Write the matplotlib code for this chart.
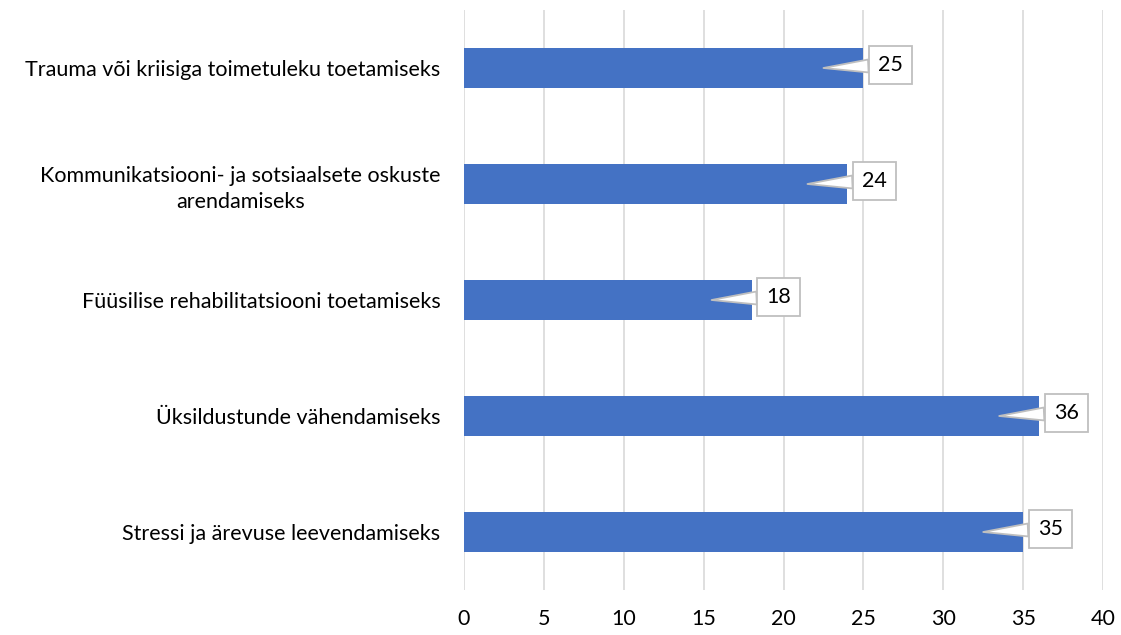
import matplotlib
matplotlib.use("Agg")
import matplotlib.pyplot as plt

categories = [
    "Trauma või kriisiga toimetuleku toetamiseks",
    "Kommunikatsiooni- ja sotsiaalsete oskuste\narendamiseks",
    "Füüsilise rehabilitatsiooni toetamiseks",
    "Üksildustunde vähendamiseks",
    "Stressi ja ärevuse leevendamiseks",
]
values = [25, 24, 18, 36, 35]
xticks = [0, 5, 10, 15, 20, 25, 30, 35, 40]

plt.rcParams['font.family'] = ['Lato', 'DejaVu Sans']
FS = 15.5

fig = plt.figure(figsize=(11.21, 6.35), dpi=100)
ax = fig.add_axes([464/1121, 45/635, (1103-464)/1121, 580/635])

ypos = list(range(len(categories)))
ax.barh(ypos, values, height=0.345, color="#4472C4", zorder=2)
ax.set_ylim(len(categories) - 0.5, -0.5)
ax.set_xlim(0, 40)
ax.set_xticks(xticks)
ax.set_xticklabels([str(t) for t in xticks], fontsize=FS)
ax.set_yticks(ypos)
ax.set_yticklabels(categories, fontsize=FS, linespacing=1.4)
for lab in ax.get_yticklabels():
    lab.set_multialignment('center')
ax.tick_params(axis='both', length=0)
ax.tick_params(axis='x', pad=14)
ax.tick_params(axis='y', pad=17)
ax.grid(axis='x', color='#d9d9d9', linewidth=1.2, zorder=0)
ax.set_axisbelow(True)
for s in ax.spines.values():
    s.set_visible(False)

for y, v in zip(ypos, values):
    ax.annotate(str(v), xy=(v - 2.5, y), xytext=(67, 3), textcoords='offset pixels',
                ha='center', va='center', fontsize=FS, zorder=5,
                bbox=dict(boxstyle='square,pad=0.42', fc='white', ec='#bfbfbf', lw=1.3),
                arrowprops=dict(arrowstyle='wedge,tail_width=0.6', fc='white', ec='#bfbfbf',
                                lw=1.3, shrinkA=0, shrinkB=0))

fig.savefig("out.png", dpi=100)
